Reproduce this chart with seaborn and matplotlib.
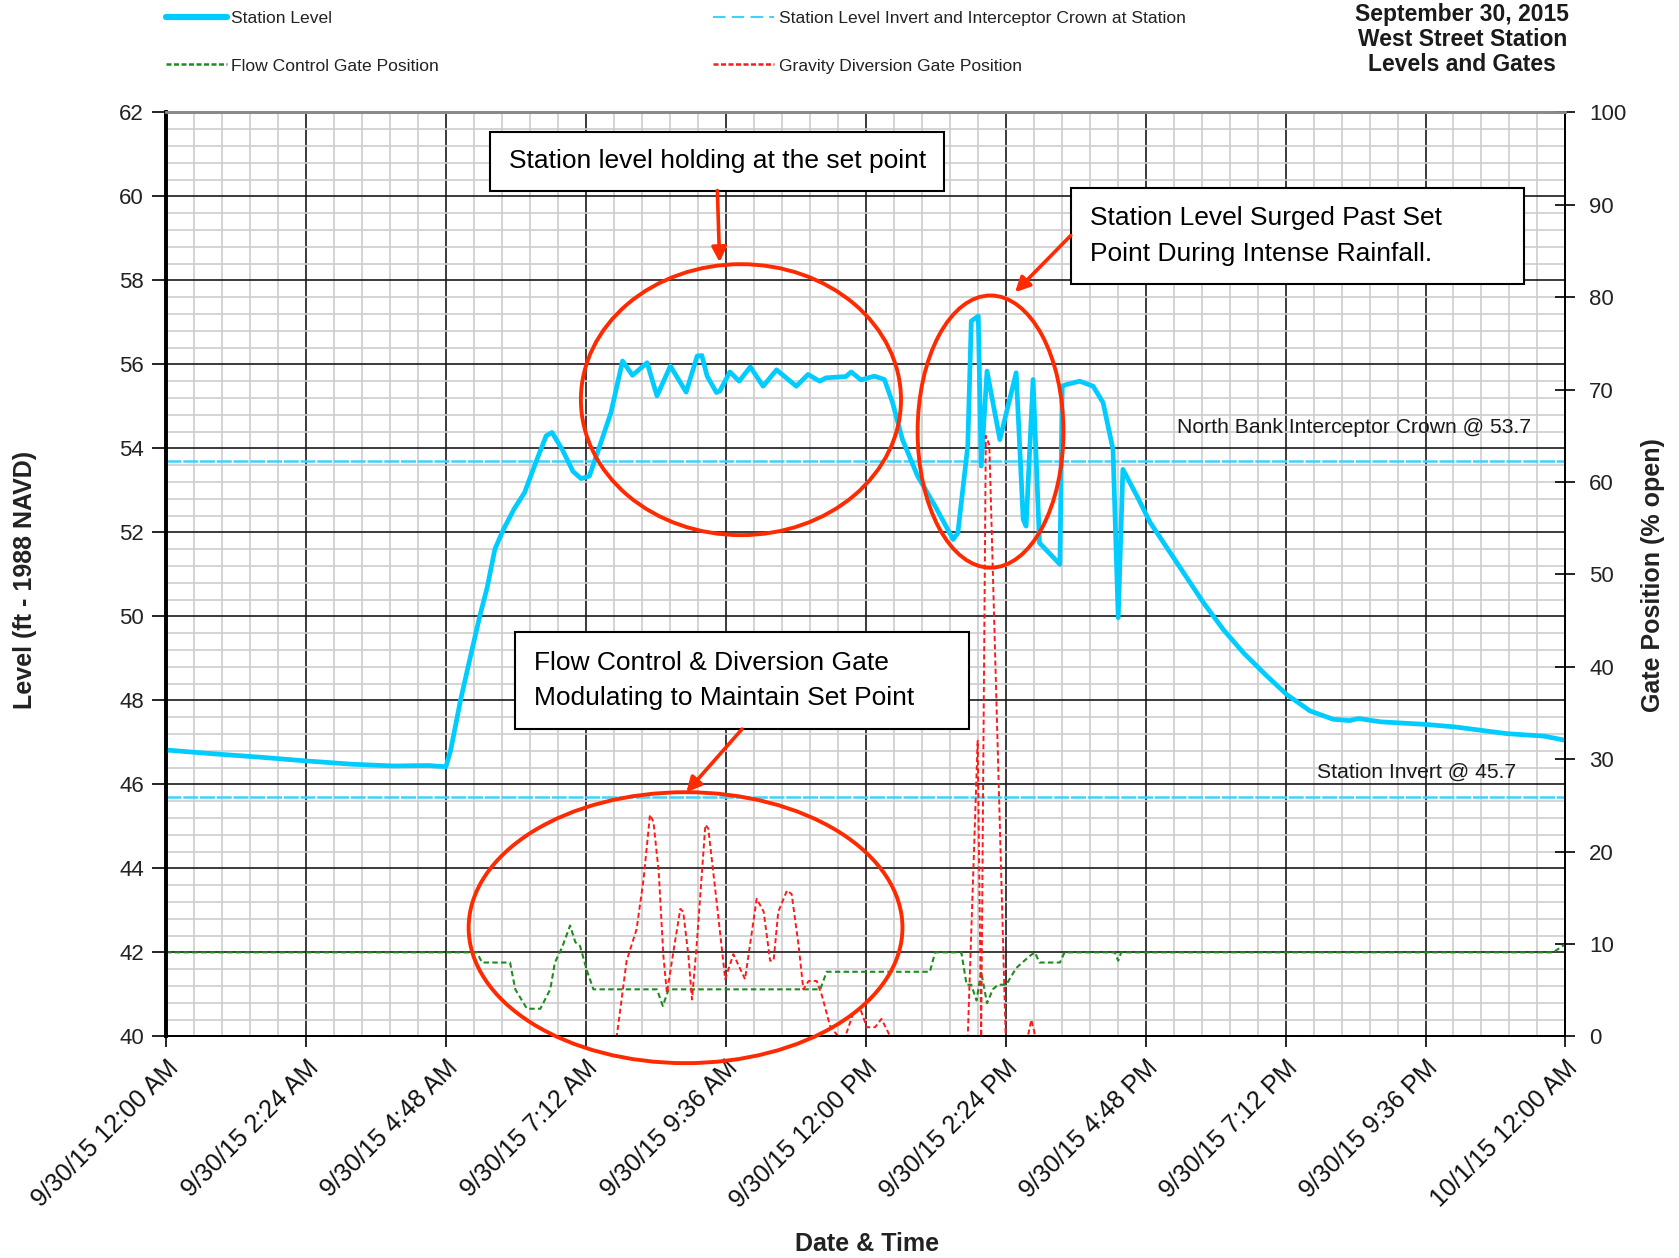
import numpy as np
import matplotlib
matplotlib.use("Agg")
import matplotlib.pyplot as plt
import seaborn as sns
from matplotlib.patches import Ellipse, Rectangle
from matplotlib.lines import Line2D

# ---------------- data (hours after 9/30/15 00:00) ----------------
level_hours = [0, 0.8, 1.6, 2.4, 3.2, 3.9, 4.5, 4.8, 4.88, 5.05, 5.23, 5.38, 5.51, 5.64, 5.78,
               5.97, 6.15, 6.34, 6.52, 6.62, 6.8, 6.98, 7.12, 7.26, 7.40, 7.63, 7.83, 8.0, 8.25,
               8.42, 8.65, 8.92, 9.11, 9.19, 9.28, 9.44, 9.5, 9.67, 9.83, 10.02, 10.24, 10.47,
               10.81, 11.01, 11.21, 11.32, 11.66, 11.75, 11.92, 12.15, 12.32, 12.46, 12.63, 12.89,
               13.2, 13.50, 13.58, 13.75, 13.81, 13.93, 13.98, 14.08, 14.30, 14.58, 14.70, 14.75,
               14.87, 14.98, 15.33, 15.37, 15.44, 15.67, 15.90, 16.07, 16.24, 16.33, 16.41, 16.65,
               16.88, 17.11, 17.45, 17.79, 18.13, 18.48, 18.88, 19.22, 19.62, 20.02, 20.3, 20.45,
               20.83, 21.59, 22.10, 22.99, 23.63, 24.0]
level_ft = [46.82, 46.73, 46.65, 46.56, 46.48, 46.44, 46.45, 46.42, 46.8, 48.0, 49.1, 50.0, 50.7,
            51.6, 52.05, 52.56, 52.95, 53.66, 54.3, 54.38, 53.96, 53.45, 53.28, 53.34, 53.90,
            54.85, 56.08, 55.74, 56.04, 55.25, 55.96, 55.34, 56.2, 56.21, 55.72, 55.33, 55.37,
            55.82, 55.60, 55.94, 55.48, 55.87, 55.48, 55.76, 55.60, 55.68, 55.71, 55.82, 55.63,
            55.72, 55.64, 55.09, 54.21, 53.34, 52.6, 51.83, 51.99, 54.06, 57.03, 57.15, 53.58,
            55.84, 54.21, 55.80, 52.31, 52.15, 55.64, 51.75, 51.24, 55.48, 55.52, 55.60, 55.48,
            55.09, 53.98, 49.97, 53.5, 52.87, 52.23, 51.75, 51.04, 50.33, 49.69, 49.13, 48.58,
            48.14, 47.75, 47.55, 47.52, 47.57, 47.49, 47.43, 47.37, 47.21, 47.15, 47.05]

flow_gate_hours = [0, 5.33, 5.42, 5.90, 5.99, 6.19, 6.42, 6.59, 6.67, 6.79, 6.93, 7.02, 7.10,
                   7.22, 7.33, 8.42, 8.52, 8.62, 11.22, 11.33, 13.10, 13.19, 13.64, 13.73, 13.81,
                   13.90, 13.98, 14.08, 14.18, 14.27, 14.41, 14.58, 14.81, 14.90, 14.98, 15.33,
                   15.41, 16.27, 16.33, 16.38, 23.79, 24.0]
flow_gate_pct = [9.1, 9.1, 8.0, 8.0, 5.1, 3.0, 3.0, 5.1, 8.0, 9.6, 12.0, 10.2, 9.8, 7.1, 5.1,
                 5.1, 3.3, 5.1, 5.1, 7.0, 7.0, 9.1, 9.1, 5.6, 5.6, 3.9, 7.0, 3.6, 5.1, 5.6, 5.6,
                 7.4, 8.7, 9.1, 8.0, 8.0, 9.1, 9.1, 8.2, 9.1, 9.1, 10.0]

div_gate_hours = [0, 7.73, 7.90, 8.07, 8.19, 8.30, 8.36, 8.45, 8.53, 8.59, 8.70, 8.82, 8.87,
                  8.96, 9.02, 9.10, 9.25, 9.30, 9.45, 9.59, 9.73, 9.93, 10.13, 10.25, 10.36,
                  10.42, 10.50, 10.65, 10.73, 10.85, 10.93, 11.02, 11.16, 11.25, 11.39, 11.53,
                  11.65, 11.79, 11.90, 12.02, 12.16, 12.27, 12.42, 13.75, 13.92, 13.98, 14.06,
                  14.12, 14.40, 14.78, 14.84, 14.91, 24.0]
div_gate_pct = [0, 0, 8.2, 11.6, 17.0, 24.0, 23.2, 17.8, 8.7, 4.7, 9.1, 13.8, 13.5, 8.7, 4.0,
                9.8, 22.9, 22.5, 14.2, 6.2, 8.9, 6.2, 14.9, 13.5, 8.2, 8.2, 13.5, 15.8, 15.4,
                9.8, 5.1, 6.0, 6.0, 4.4, 1.1, 0, 0, 2.6, 3.1, 1.0, 1.0, 1.9, 0, 0, 32, 0, 65,
                64, 0, 0, 1.8, 0, 0]

ref_levels = [53.7, 45.7]
ref_labels = ["North Bank Interceptor Crown @ 53.7", "Station Invert @ 45.7"]

x_tick_labels = ["9/30/15 12:00 AM", "9/30/15 2:24 AM", "9/30/15 4:48 AM", "9/30/15 7:12 AM",
                 "9/30/15 9:36 AM", "9/30/15 12:00 PM", "9/30/15 2:24 PM", "9/30/15 4:48 PM",
                 "9/30/15 7:12 PM", "9/30/15 9:36 PM", "10/1/15 12:00 AM"]

series_names = ["Station Level", "Station Level Invert and Interceptor Crown at Station",
                "Flow Control Gate Position", "Gravity Diversion Gate Position"]

# ---------------- style ----------------
sns.set_theme(style="white")
FONT = ["Liberation Sans", "DejaVu Sans"]
plt.rcParams["font.family"] = FONT

CYAN = "#00CCFF"
REFCYAN = "#3FD2FF"
GREEN = "#1E8C1E"
RED = "#FF1A1A"
ANN = "#FF2A00"

fig = plt.figure(figsize=(16.79, 12.58), dpi=100)
ax = fig.add_axes([0.09887, 0.1761, 0.8335, 0.7346])
ax2 = ax.twinx()

ax.set_xlim(0, 24)
ax.set_ylim(40, 62)
ax2.set_ylim(0, 100)

ax.set_xticks(np.linspace(0, 24, 11))
ax.set_xticks(np.linspace(0, 24, 51), minor=True)
ax.set_yticks(np.arange(40, 62.1, 2))
ax.set_yticks(np.linspace(40, 62, 56), minor=True)
ax2.set_yticks(np.arange(0, 101, 10))

ax.grid(which="minor", color="#cdcdcd", lw=1.2)
ax.grid(which="major", color="#1a1a1a", lw=1.2)
ax.set_axisbelow(True)

# reference lines
for lv in ref_levels:
    ax.axhline(lv, color=REFCYAN, lw=1.8, ls=(0, (6, 0.7)), zorder=2)

# station level
sns.lineplot(x=level_hours, y=level_ft, ax=ax, color=CYAN, lw=3.4,
             estimator=None, sort=False, legend=False, zorder=4)
ax.get_lines()[-1].set_solid_joinstyle("round")
ax.get_lines()[-1].set_solid_capstyle("round")

# gate positions on right axis
sns.lineplot(x=flow_gate_hours, y=flow_gate_pct, ax=ax2, color=GREEN, lw=1.5,
             estimator=None, sort=False, legend=False)
sns.lineplot(x=div_gate_hours, y=div_gate_pct, ax=ax2, color=RED, lw=1.4,
             estimator=None, sort=False, legend=False)
for ln in ax2.get_lines():
    ln.set_linestyle((0, (2.6, 1.6)))
ax2.set_xlim(0, 24)

# ticks
ax.tick_params(axis="x", which="major", direction="out", length=8, width=1.2,
               color="black", bottom=True, labelsize=18, pad=6)
ax.tick_params(axis="y", which="major", direction="out", length=10, width=1.2,
               color="black", left=True, labelsize=16, pad=6)
ax.tick_params(which="minor", length=0)
ax2.tick_params(axis="y", which="major", direction="inout", length=14, width=1.2,
                color="black", right=True, labelsize=16, pad=10)
for lbl in ax.get_yticklabels() + ax2.get_yticklabels():
    lbl.set_color("#222222")
ax.set_xticklabels(x_tick_labels, rotation=45, ha="right", rotation_mode="anchor",
                   fontsize=18, color="#111111")
ax2.set_ylabel("")
ax.set_xlabel("")

ax.set_ylabel("Level (ft - 1988 NAVD)", fontsize=18, fontweight="bold", color="#222222")
ax.yaxis.set_label_coords(-0.092, 0.494)
ax2.set_ylabel("Gate Position (% open)", fontsize=18, fontweight="bold", color="#222222")
ax2.yaxis.set_label_coords(1.054, 0.499)
ax.set_xlabel("Date & Time", fontsize=18, fontweight="bold", color="#222222")
ax.xaxis.set_label_coords(0.501, -0.212)

# spines
for a in (ax, ax2):
    for s in a.spines.values():
        s.set_visible(True)
        s.set_color("black")
        s.set_linewidth(1.3)
    a.spines["top"].set_color("#8a8a8a")
    a.spines["top"].set_linewidth(2.0)
    a.spines["left"].set_linewidth(2.6)

# reference line labels
ax.text(23.41, 54.49, ref_labels[0], ha="right", va="center", fontsize=15.2, color="#1a1a1a")
ax.text(23.15, 46.30, ref_labels[1], ha="right", va="center", fontsize=15.2, color="#1a1a1a")

# ellipses (in level-axis data coordinates)
for (cx, cy, w, h) in [(9.86, 55.16, 5.49, 6.45), (14.14, 54.40, 2.50, 6.48),
                       (8.91, 42.59, 7.44, 6.45)]:
    e = Ellipse((cx, cy), w, h, transform=ax.transData, fill=False, edgecolor=ANN,
                lw=2.8, clip_on=False, zorder=10)
    ax2.add_patch(e)

# annotation boxes
def box(x0, x1, y0, y1):
    r = Rectangle((x0, y0), x1 - x0, y1 - y0, transform=ax2.transAxes, facecolor="white",
                  edgecolor="black", lw=1.5, zorder=11, clip_on=False)
    ax2.add_patch(r)

box(0.2318, 0.5562, 0.9154, 0.9791)
ax2.text(0.394, 0.9475, "Station level holding at the set point", transform=ax2.transAxes,
         ha="center", va="center", fontsize=19, color="black", zorder=12)
box(0.6465, 0.9702, 0.8146, 0.9177)
ax2.text(0.6603, 0.8665, "Station Level Surged Past Set\nPoint During Intense Rainfall.",
         transform=ax2.transAxes, ha="left", va="center", fontsize=19, color="black",
         linespacing=1.62, zorder=12)
box(0.2494, 0.5738, 0.3326, 0.4380)
ax2.text(0.2632, 0.3853, "Flow Control & Diversion Gate\nModulating to Maintain Set Point",
         transform=ax2.transAxes, ha="left", va="center", fontsize=19, color="black",
         linespacing=1.62, zorder=12)

arrow_kw = dict(arrowstyle="-|>", color=ANN, lw=2.6, mutation_scale=22, shrinkA=0, shrinkB=0)
for (xa, ya), (xb, yb) in [((0.394, 0.9154), (0.3956, 0.8378)),
                           ((0.6465, 0.8667), (0.6067, 0.8053)),
                           ((0.4116, 0.3326), (0.3718, 0.2642))]:
    ax2.annotate("", xy=(xb, yb), xytext=(xa, ya), xycoords="axes fraction",
                 textcoords="axes fraction", arrowprops=arrow_kw, zorder=12)

# legend (two columns placed at top)
h_level = Line2D([], [], color=CYAN, lw=4.5, solid_capstyle="round")
h_ref = Line2D([], [], color=REFCYAN, lw=1.5, ls=(0, (6, 3)))
h_flow = Line2D([], [], color=GREEN, lw=1.8, ls=(0, (2, 1)))
h_div = Line2D([], [], color=RED, lw=1.8, ls=(0, (2, 1)))
leg_kw = dict(loc="upper left", frameon=False, fontsize=12.6, handlelength=3.5,
              handletextpad=0.25, labelspacing=1.85, borderpad=0, borderaxespad=0,
              labelcolor="#222222")
fig.legend([h_level, h_flow], [series_names[0], series_names[2]],
           bbox_to_anchor=(0.0987, 0.9915), **leg_kw)
fig.legend([h_ref, h_div], [series_names[1], series_names[3]],
           bbox_to_anchor=(0.4248, 0.9915), **leg_kw)

fig.text(0.871, 0.9685, "September 30, 2015\nWest Street Station\nLevels and Gates",
         ha="center", va="center", fontsize=16.5, fontweight="bold", linespacing=1.12,
         color="#1a1a1a")

fig.savefig("out.png", dpi=100)
